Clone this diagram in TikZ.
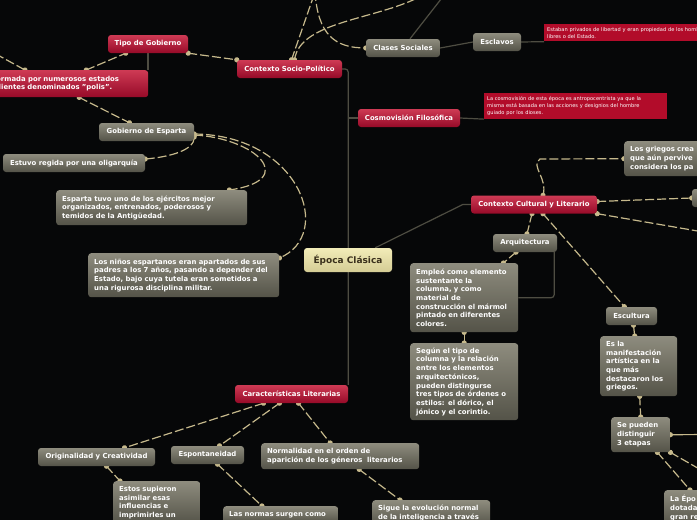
\documentclass[tikz,border=0pt]{standalone}
\usepackage{fontspec}
\setmainfont{DejaVu Sans}
\usetikzlibrary{decorations.markings,backgrounds}
\definecolor{fondo}{RGB}{6,7,8}
\definecolor{tan}{RGB}{198,185,140}
\definecolor{linkgray}{RGB}{78,77,66}
\definecolor{redtop}{RGB}{206,58,84}
\definecolor{redbot}{RGB}{150,10,40}
\definecolor{notered}{RGB}{178,12,42}
\definecolor{graytop}{RGB}{142,140,126}
\definecolor{graybot}{RGB}{84,83,72}
\definecolor{epocatop}{RGB}{242,236,184}
\definecolor{epocabot}{RGB}{212,204,148}
\definecolor{epocatext}{RGB}{58,48,28}
\tikzset{
  base/.style={rounded corners=3pt, text=white, inner xsep=6pt, inner ysep=0pt,
    font=\bfseries\fontsize{6.9}{8.7}\selectfont},
  redbox/.style={base, top color=redtop, bottom color=redbot},
  graybox/.style={base, top color=graytop, bottom color=graybot},
  textbox/.style={graybox, anchor=north west, align=left},
  notebox/.style={fill=notered, text=white, anchor=north west, align=left, inner sep=3pt,
    font=\fontsize{5.1}{7.3}\selectfont},
  enddots/.style={postaction={decorate, decoration={markings,
    mark=at position 0 with {\fill[tan] (0,0) circle (2.6pt);},
    mark=at position 0.9999 with {\fill[tan] (0,0) circle (2.6pt);}}}},
  startdot/.style={postaction={decorate, decoration={markings,
    mark=at position 0 with {\fill[tan] (0,0) circle (2.6pt);}}}},
  dashlink/.style={draw=tan, line width=1.2pt, dash pattern=on 9pt off 3pt, enddots},
  tanline/.style={draw=tan, line width=1.2pt, startdot},
  solidlink/.style={draw=linkgray, line width=1.2pt},
}
\begin{document}
\begin{tikzpicture}[x=1pt, y=-1pt]
  \useasboundingbox (0,0) rectangle (697,520);
  \clip (0,0) rectangle (697,520);
  \coordinate (izq) at (-15,48);
  \coordinate (arribaA) at (315,-8);
  \coordinate (arribaB) at (425,-6);
  \coordinate (arribaC) at (445,-6);
  \coordinate (derechaB) at (715,234);
  \coordinate (derechaC) at (715,434.5);
  \coordinate (derechaD) at (715,478);

  \node[base, top color=epocatop, bottom color=epocabot, text=epocatext,
    font=\bfseries\fontsize{9}{11}\selectfont, minimum width=88pt, minimum height=24pt]
    (epoca) at (348,260) {Época Clásica};

  \node[redbox, minimum width=80pt, minimum height=18pt] (tipo) at (148,44) {Tipo de Gobierno};
  \node[redbox, anchor=north west, align=left, text width=146pt, minimum height=27pt]
    (polis) at (-10,70) {ormada por numerosos estados\\dientes denominados "polis".};
  \node[redbox, minimum width=105pt, minimum height=18pt] (socio) at (289.5,69) {Contexto Socio-Político};
  \node[redbox, minimum width=102pt, minimum height=18pt] (cosmo) at (409,118) {Cosmovisión Filosófica};
  \node[redbox, minimum width=126pt, minimum height=18pt] (cultural) at (534,204.5) {Contexto Cultural y Literario};
  \node[redbox, minimum width=113pt, minimum height=18pt] (caract) at (291.5,394) {Características Literarias};

  \node[notebox, text width=170pt] (notaesclavos) at (544,24)
    {Estaban privados de libertad y eran propiedad de los hombres\\libres o del Estado.};
  \node[notebox, text width=177pt] (notacosmo) at (484,93)
    {La cosmovisión de esta época es antropocentrista ya que la\\misma está basada en las acciones y designios del hombre\\guiado por los dioses.};

  \node[graybox, minimum width=74pt, minimum height=18pt] (clases) at (403,48) {Clases Sociales};
  \node[graybox, minimum width=48pt, minimum height=18pt] (esclavos) at (497,42) {Esclavos};
  \node[graybox, minimum width=95pt, minimum height=18pt] (gobierno) at (146.5,132) {Gobierno de Esparta};
  \node[graybox, minimum width=142pt, minimum height=18pt] (oligarquia) at (74,163) {Estuvo regida por una oligarquía};
  \node[graybox, minimum width=64pt, minimum height=18pt] (arqui) at (525,243) {Arquitectura};
  \node[graybox, minimum width=51pt, minimum height=18pt] (escultura) at (631.5,316) {Escultura};
  \node[graybox, minimum width=117pt, minimum height=18pt] (original) at (96.5,457) {Originalidad y Creatividad};
  \node[graybox, minimum width=73pt, minimum height=18pt] (espont) at (207.5,455) {Espontaneidad};
  \node[graybox, minimum width=40pt, minimum height=18pt] (derecha) at (712,198) {};

  \node[textbox, text width=179pt, minimum height=35pt] (ejercito) at (56,190)
    {Esparta tuvo uno de los ejércitos mejor\\organizados, entrenados, poderosos y\\temidos de la Antigüedad.};
  \node[textbox, text width=179pt, minimum height=44pt] (ninos) at (88,253)
    {Los niños espartanos eran apartados de sus\\padres a los 7 años, pasando a depender del\\Estado, bajo cuya tutela eran sometidos a\\una rigurosa disciplina militar.};
  \node[textbox, text width=100pt, minimum height=35pt] (griegos) at (624,141)
    {Los griegos crea\\que aún pervive\\considera los pa};
  \node[textbox, text width=96pt, minimum height=69pt] (empleo) at (410,263)
    {Empleó como elemento\\sustentante la\\columna, y como\\material de\\construcción el mármol\\pintado en diferentes\\colores.};
  \node[textbox, text width=96pt, minimum height=77pt] (segun) at (410,343)
    {Según el tipo de\\columna y la relación\\entre los elementos\\arquitectónicos,\\pueden distingurse\\tres tipos de órdenes o\\estilos: el dórico, el\\jónico y el corintio.};
  \node[textbox, text width=65pt, minimum height=60pt] (esla) at (600,336)
    {Es la\\manifestación\\artística en la\\que más\\destacaron los\\griegos.};
  \node[textbox, text width=47pt, minimum height=35pt] (etapas) at (611,417)
    {Se pueden\\distinguir\\3 etapas};
  \node[textbox, text width=50pt, inner ysep=5pt] (laepoca) at (664,490)
    {La Épo\\dotada\\gran re};
  \node[textbox, text width=146pt, minimum height=26pt] (normal) at (261,443)
    {Normalidad en el orden de\\aparición de los géneros\ \ literarios};
  \node[textbox, text width=75pt, inner ysep=5pt] (estos) at (113,481)
    {Estos supieron\\asimilar esas\\influencias e\\imprimirles un};
  \node[textbox, text width=103pt, inner ysep=5pt] (normas) at (223,506)
    {Las normas surgen como\\};
  \node[textbox, text width=106pt, inner ysep=5pt] (sigue) at (372,500)
    {Sigue la evolución normal\\de la inteligencia a través};

  \begin{scope}[on background layer]
    \fill[fondo] (0,0) rectangle (697,520);
    \draw[solidlink, rounded corners=3pt] (socio.east) -| (caract.north east);
    \draw[solidlink] (cosmo.west) -- (cosmo.west -| epoca.center);
    \draw[solidlink] ([xshift=-17pt]epoca.north east) -- ([xshift=-8pt]cultural.west) -- (cultural.west);
    \draw[solidlink] (clases.east) -- (esclavos.west);
    \draw[solidlink] (esclavos.east) -- (notaesclavos.south west);
    \draw[solidlink] (cosmo.east) -- (notacosmo.south west);
    \draw[solidlink] ([xshift=7pt]clases.north) -- (arribaC);
    \draw[solidlink] (tipo.south) -- (tipo.south |- polis.north);
    \draw[solidlink, rounded corners=3pt] ([xshift=-3pt]arqui.south east) |- (empleo.east);

    \draw[dashlink] (tipo.south east) -- (socio.north west);
    \draw[dashlink] ([xshift=17pt]polis.north) -- ([xshift=18pt]tipo.south west);
    \draw[dashlink] (izq) -- ([xshift=35pt]polis.north west);
    \draw[dashlink] ([xshift=10pt]polis.south) -- ([xshift=-17pt]gobierno.north);
    \draw[dashlink] ([yshift=-5pt]gobierno.east) .. controls (195,150) and (170,157) .. ([yshift=4pt]oligarquia.east);
    \draw[dashlink] ([yshift=-3pt]gobierno.east) .. controls (255,138) and (300,180) .. ([xshift=-18pt]ejercito.north east);
    \draw[dashlink] ([yshift=-2pt]gobierno.east) .. controls (300,135) and (335,235) .. ([yshift=-5pt]ninos.north east);
    \draw[dashlink] ([xshift=2pt]socio.north) -- (arribaA);
    \draw[dashlink] ([xshift=5pt]socio.north) .. controls (300,20) and (380,20) .. (arribaB);
    \draw[dashlink] (arribaA) .. controls (318,35) and (335,48) .. (clases.west);
    \draw[dashlink] ([xshift=9pt]cultural.north) .. controls (548,178) and (530,166) .. (540,159) -- (griegos.west);
    \draw[dashlink] ([yshift=3pt]cultural.east) -- (derecha.west);
    \draw[dashlink] (cultural.south east) -- (derechaB);
    \draw[dashlink] ([xshift=-2pt]cultural.south) -- ([xshift=2pt]arqui.north);
    \draw[dashlink] ([xshift=9pt]cultural.south) -- ([xshift=-7pt]escultura.north);
    \draw[dashlink] ([xshift=-9pt]arqui.south) -- ([xshift=-15pt]empleo.north east);
    \draw[dashlink] (empleo.south) -- (segun.north);
    \draw[dashlink] ([xshift=2pt]escultura.south) -- ([xshift=-4pt]esla.north);
    \draw[dashlink] ([xshift=1pt]esla.south) -- (etapas.north);
    \draw[tanline] (etapas.east) -- (derechaC);
    \draw[dashlink] ([xshift=-13pt]etapas.south east) -- ([xshift=26pt]laepoca.north west);
    \draw[dashlink] (etapas.south east) -- (derechaD);
    \draw[dashlink] ([xshift=-28pt]caract.south) -- ([xshift=28pt]original.north);
    \draw[dashlink] ([xshift=-12pt]caract.south) -- ([xshift=12pt]espont.north);
    \draw[dashlink] ([xshift=7pt]caract.south) -- ([xshift=-10pt]normal.north);
    \draw[dashlink] ([xshift=10pt]original.south) -- ([xshift=7pt]estos.north west);
    \draw[dashlink] ([xshift=10pt]espont.south) -- ([xshift=39pt]normas.north west);
    \draw[dashlink] ([xshift=19pt]normal.south) -- ([xshift=28pt]sigue.north west);
  \end{scope}
\end{tikzpicture}
\end{document}
